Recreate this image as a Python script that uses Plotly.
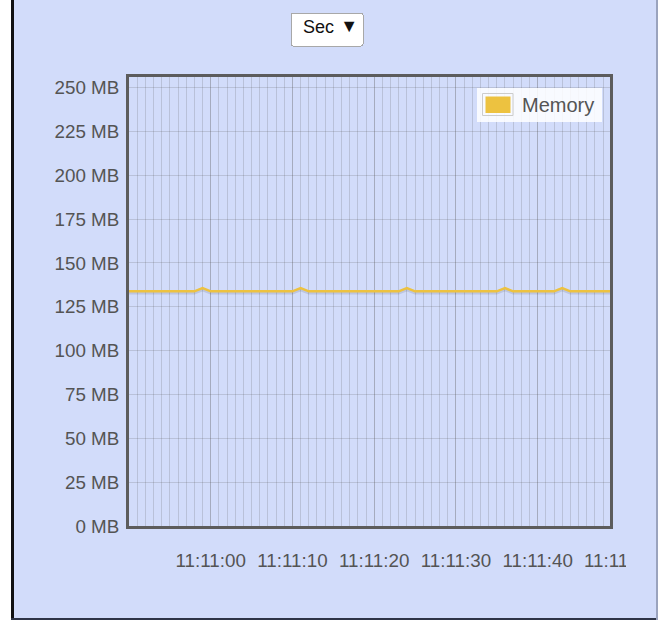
import pandas as pd
import plotly.graph_objects as go

# ---- data ----------------------------------------------------------------
sample_times = [
    "11:10:49", "11:10:50", "11:10:51", "11:10:52", "11:10:53", "11:10:54",
    "11:10:55", "11:10:56", "11:10:57", "11:10:58", "11:10:59", "11:11:00",
    "11:11:01", "11:11:02", "11:11:03", "11:11:04", "11:11:05", "11:11:06",
    "11:11:07", "11:11:08", "11:11:09", "11:11:10", "11:11:11", "11:11:12",
    "11:11:13", "11:11:14", "11:11:15", "11:11:16", "11:11:17", "11:11:18",
    "11:11:19", "11:11:20", "11:11:21", "11:11:22", "11:11:23", "11:11:24",
    "11:11:25", "11:11:26", "11:11:27", "11:11:28", "11:11:29", "11:11:30",
    "11:11:31", "11:11:32", "11:11:33", "11:11:34", "11:11:35", "11:11:36",
    "11:11:37", "11:11:38", "11:11:39", "11:11:40", "11:11:41", "11:11:42",
    "11:11:43", "11:11:44", "11:11:45", "11:11:46", "11:11:47", "11:11:48",
    "11:11:49",
]
memory_mb = [
    133.8, 133.8, 133.8, 133.8, 133.8, 133.8, 133.8, 133.8, 133.8, 133.8, 135.6, 133.8,
    133.8, 133.8, 133.8, 133.8, 133.8, 133.8, 133.8, 133.8, 133.8, 133.8, 135.6, 133.8,
    133.8, 133.8, 133.8, 133.8, 133.8, 133.8, 133.8, 133.8, 133.8, 133.8, 133.8, 135.6,
    133.8, 133.8, 133.8, 133.8, 133.8, 133.8, 133.8, 133.8, 133.8, 133.8, 133.8, 135.6,
    133.8, 133.8, 133.8, 133.8, 133.8, 133.8, 135.6, 133.8, 133.8, 133.8, 133.8, 133.8,
    133.8,
]
x_tick_labels = ["11:11:00", "11:11:10", "11:11:20", "11:11:30", "11:11:40"]
last_tick = "11:11:50"
series_name = "Memory"
interval_label = "Sec"
x_window = ["11:10:50.00", "11:11:48.85"]
y_window = [0, 256]

DAY = "2024-01-01 "
xs = pd.to_datetime([DAY + t for t in sample_times])
x0, x1 = pd.Timestamp(DAY + x_window[0]), pd.Timestamp(DAY + x_window[1])
tick_vals = pd.to_datetime([DAY + t for t in x_tick_labels])

# ---- styling -------------------------------------------------------------
W, H = 658, 620
ML, MR, MT, MB = 129, 48, 77, 94
PW, PH = W - ML - MR, H - MT - MB
BG = "#d2dcfa"
TXT = "#545454"
LINE = "#edc240"
GRID = "rgba(84,84,84,0.2)"
FONT = "Liberation Sans, Arial, sans-serif"
FS = 18.8


def px(x):
    return (x - ML) / PW


def py(y):
    return (H - MB - y) / PH


fig = go.Figure()

# soft drop shadow under the series line
fig.add_trace(go.Scatter(
    x=xs, y=[v - 0.9 for v in memory_mb], mode="lines",
    line=dict(color="rgba(0,0,0,0.10)", width=3),
    hoverinfo="skip", showlegend=False,
))
fig.add_trace(go.Scatter(
    x=xs, y=memory_mb, mode="lines", name=series_name,
    line=dict(color=LINE, width=2.5), showlegend=False,
))

shapes = [
    # page frame
    dict(type="rect", xref="paper", yref="paper", x0=px(0), x1=px(11),
         y0=py(H), y1=py(0), fillcolor="white", line_width=0, layer="below"),
    dict(type="rect", xref="paper", yref="paper", x0=px(11), x1=px(14),
         y0=py(H), y1=py(0), fillcolor="#111111", line_width=0, layer="below"),
    dict(type="rect", xref="paper", yref="paper", x0=px(11), x1=px(W),
         y0=py(H), y1=py(H - 2), fillcolor="#2e3446", line_width=0, layer="below"),
    dict(type="rect", xref="paper", yref="paper", x0=px(W - 2), x1=px(W),
         y0=py(H), y1=py(0), fillcolor="#9aa3bd", line_width=0, layer="below"),
    # legend box
    dict(type="rect", xref="paper", yref="paper", x0=px(477), x1=px(602),
         y0=py(122), y1=py(88), fillcolor="rgba(255,255,255,0.85)",
         line_width=0, layer="above"),
    dict(type="rect", xref="paper", yref="paper", x0=px(482.5), x1=px(513),
         y0=py(115.5), y1=py(93.5), fillcolor="rgba(0,0,0,0)",
         line=dict(color="#cccccc", width=1), layer="above"),
    dict(type="rect", xref="paper", yref="paper", x0=px(485.5), x1=px(510.5),
         y0=py(113), y1=py(96.5), fillcolor=LINE, line_width=0, layer="above"),
]

tick_frac = (pd.Timestamp(DAY + last_tick) - x0) / (x1 - x0)

annotations = [
    dict(xref="paper", yref="paper", x=px(520), y=py(105), xanchor="left",
         yanchor="middle", text=series_name, showarrow=False,
         font=dict(family=FONT, size=20, color=TXT)),
    # tick label that runs off the right edge of the chart
    dict(xref="paper", yref="paper", x=tick_frac, y=py(560), xanchor="left",
         yanchor="middle", xshift=-36, text=last_tick, showarrow=False,
         width=42, align="left", borderpad=0,
         font=dict(family=FONT, size=FS, color=TXT)),
]

fig.update_layout(
    width=W, height=H,
    margin=dict(l=ML, r=MR, t=MT, b=MB, pad=0),
    paper_bgcolor=BG, plot_bgcolor=BG,
    font=dict(family=FONT, size=FS, color=TXT),
    shapes=shapes, annotations=annotations,
    showlegend=False,
    updatemenus=[dict(
        type="dropdown", direction="down", showactive=False,
        buttons=[dict(label=interval_label, method="skip", args=[None])],
        x=px(326), y=py(12), xanchor="center", yanchor="top",
        bgcolor="white", bordercolor="#a8a8a8", borderwidth=1,
        font=dict(family=FONT, size=18, color="#111111"),
        pad=dict(t=0, b=0, l=0, r=0),
    )],
)

fig.update_xaxes(
    type="date", range=[x0, x1],
    tickmode="array", tickvals=tick_vals, ticktext=x_tick_labels,
    showgrid=True, gridcolor=GRID, gridwidth=1,
    minor=dict(tickmode="linear", tick0=DAY + "11:11:00", dtick=1000,
               showgrid=True, gridcolor=GRID, gridwidth=1),
    showline=True, linecolor="#5c5c5c", linewidth=3, mirror=True,
    ticks="outside", ticklen=15, tickcolor="rgba(0,0,0,0)",
    tickfont=dict(family=FONT, size=FS, color=TXT),
    zeroline=False, fixedrange=True,
)
fig.update_yaxes(
    range=y_window, dtick=25, tick0=0, ticksuffix=" MB",
    showgrid=True, gridcolor=GRID, gridwidth=1,
    showline=True, linecolor="#5c5c5c", linewidth=3, mirror=True,
    ticks="outside", ticklen=3, tickcolor="rgba(0,0,0,0)",
    tickfont=dict(family=FONT, size=FS, color=TXT),
    zeroline=False, fixedrange=True,
)

fig.write_html("out.html", config={"displayModeBar": False})
